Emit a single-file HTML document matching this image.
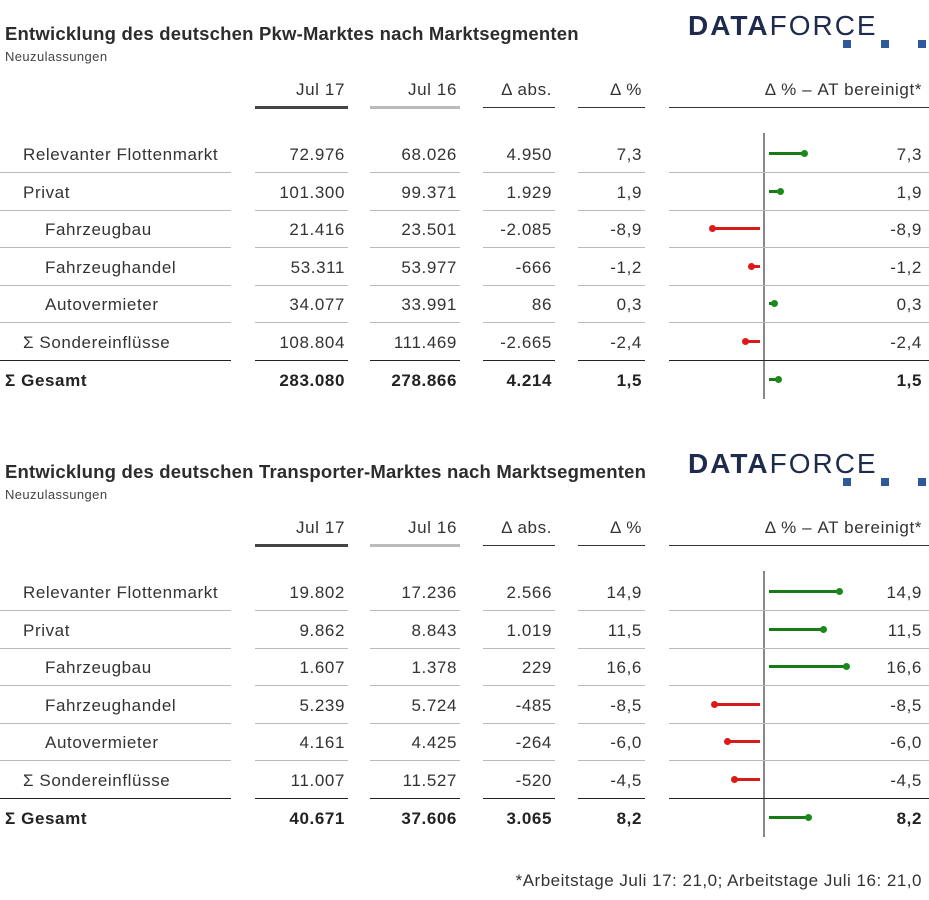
<!DOCTYPE html>
<html><head><meta charset="utf-8"><style>
body{margin:0;width:929px;height:900px;background:#fff;position:relative;overflow:hidden;font-family:"Liberation Sans",sans-serif;color:#333}
.a{position:absolute;white-space:nowrap}
.t{font-size:18.5px;font-weight:bold;color:#2c2c2c;letter-spacing:0.2px}
.s{font-size:13px;color:#444;letter-spacing:0.4px}
.n{font-size:17px;letter-spacing:0.6px;text-align:right}
.l{position:absolute;height:1px;background:#bbb}
.logo{font-size:28px;color:#1f2b4d;letter-spacing:2px}
.sq{position:absolute;width:8px;height:8px;background:#2e5a9c}
</style></head><body>
<div id="c"></div>
<div class="a" style="right:7px;top:871px;font-size:17px;letter-spacing:0.5px;color:#333">*Arbeitstage Juli 17: 21,0; Arbeitstage Juli 16: 21,0</div>
<script>
var c=document.getElementById('c'),h='';
function txt(x,y,s,cls,st){h+='<div class="a '+cls+'" style="left:'+x+'px;top:'+y+'px;'+(st||'')+'">'+s+'</div>';}
function rt(r,y,s,st){h+='<div class="a n" style="right:'+(929-r)+'px;top:'+(y-8)+'px;'+(st||'')+'">'+s+'</div>';}
function line(x1,x2,y,col,hh){h+='<div class="l" style="left:'+x1+'px;width:'+(x2-x1)+'px;top:'+y+'px;background:'+(col||'#bbb')+';height:'+(hh||1)+'px"></div>';}
var cols=[[0,231],[255,348],[370,460],[483,555],[578,645],[669,929]];
var rc=[345,457,552,642,922];
function table(y0,title,rows){
 txt(5,y0-10,title,'t');
 txt(5,y0+16,'Neuzulassungen','s');
 h+='<div class="a logo" style="left:688px;top:'+(y0-23)+'px"><b>DATA</b>FORCE</div>';
 [843,881,918].forEach(function(x){h+='<div class="sq" style="left:'+x+'px;top:'+(y0+7)+'px"></div>';});
 var hy=y0+55;
 ['Jul 17','Jul 16','Δ abs.','Δ %','Δ % – AT bereinigt*'].forEach(function(s,i){rt(rc[i],hy,s);});
 var uy=y0+74;
 line(255,348,uy-1,'#444',3);line(370,460,uy-1,'#bbb',3);
 line(483,555,uy,'#333');line(578,645,uy,'#333');line(669,929,uy,'#333');
 var ry=y0+120;
 h+='<div class="l" style="left:763px;width:2px;background:#888;top:'+(ry-20)+'px;height:'+(6*37.6+40)+'px"></div>';
 rows.forEach(function(r,i){
  var y=Math.round(ry+i*37.6);
  var last=i==6;
  var st=last?'font-weight:bold;color:#222':'';
  txt(r[0],y-8,r[1],'n',st);
  for(var k=0;k<4;k++)rt(rc[k],y,r[2+k],st);
  rt(922,y,r[5],st);
  var v=parseFloat(r[5].replace(',','.'));
  if(v>=0){var dx=Math.max(774,772+4.5*v);line(769,dx,y-1,'#1a7a1a',3);h+='<div class="a" style="left:'+(dx-3.5)+'px;top:'+(y-3)+'px;width:7px;height:7px;border-radius:50%;background:#1a8a1a"></div>';}
  else{var dx=Math.min(754,757-5*(-v));line(dx,760,y-1,'#d41c1c',3);h+='<div class="a" style="left:'+(dx-3.5)+'px;top:'+(y-3)+'px;width:7px;height:7px;border-radius:50%;background:#e01818"></div>';}
  if(i<6){var sy=Math.round(y+18.8);var col=i==5?'#222':'#bbb';
   cols.forEach(function(cc){line(cc[0],cc[1],sy,col);});}
 });
}
table(33,'Entwicklung des deutschen Pkw-Marktes nach Marktsegmenten',[
[23,'Relevanter Flottenmarkt','72.976','68.026','4.950','7,3','7,3'],
[23,'Privat','101.300','99.371','1.929','1,9','1,9'],
[45,'Fahrzeugbau','21.416','23.501','-2.085','-8,9','-8,9'],
[45,'Fahrzeughandel','53.311','53.977','-666','-1,2','-1,2'],
[45,'Autovermieter','34.077','33.991','86','0,3','0,3'],
[23,'Σ Sondereinflüsse','108.804','111.469','-2.665','-2,4','-2,4'],
[5,'Σ Gesamt','283.080','278.866','4.214','1,5','1,5']]);
table(471,'Entwicklung des deutschen Transporter-Marktes nach Marktsegmenten',[
[23,'Relevanter Flottenmarkt','19.802','17.236','2.566','14,9','14,9'],
[23,'Privat','9.862','8.843','1.019','11,5','11,5'],
[45,'Fahrzeugbau','1.607','1.378','229','16,6','16,6'],
[45,'Fahrzeughandel','5.239','5.724','-485','-8,5','-8,5'],
[45,'Autovermieter','4.161','4.425','-264','-6,0','-6,0'],
[23,'Σ Sondereinflüsse','11.007','11.527','-520','-4,5','-4,5'],
[5,'Σ Gesamt','40.671','37.606','3.065','8,2','8,2']]);
c.innerHTML=h;
</script>
</body></html>
